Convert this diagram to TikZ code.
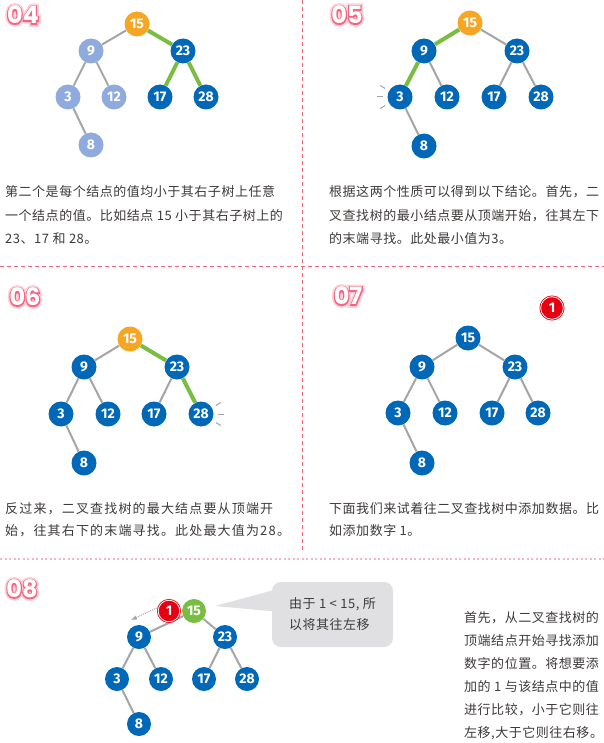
\documentclass[tikz,border=0pt]{standalone}
\usepackage{fontspec}
\setsansfont{Fira Sans}
\newfontfamily\cjk[LetterSpace=4]{Noto Sans CJK SC}
\newfontfamily\cjkwide[LetterSpace=9]{Noto Sans CJK SC}
\newfontfamily\stepfont{Poppins}
\newfontfamily\stepline[FakeBold=10]{Poppins}
\newfontfamily\stepglow[FakeBold=24]{Poppins}
\usepackage{xcolor}
\usetikzlibrary{calc}

\definecolor{treeblue}{RGB}{0,104,183}
\definecolor{treelight}{RGB}{143,170,220}
\definecolor{treeorange}{RGB}{246,166,35}
\definecolor{treegreen}{RGB}{122,190,65}
\definecolor{treered}{RGB}{230,0,18}
\definecolor{edgegray}{RGB}{165,165,165}
\definecolor{bubblegray}{RGB}{224,224,226}
\definecolor{textgray}{RGB}{62,58,57}
\definecolor{rulepink}{RGB}{240,104,132}
\definecolor{dotpink}{RGB}{248,180,194}
\definecolor{glowpink}{RGB}{252,210,220}

\tikzset{
  tnode/.style={circle, minimum size=25pt, inner sep=0pt, text=white,
                font=\sffamily\bfseries\fontsize{14}{14}\selectfont},
  newnode/.style={tnode, fill=treered, draw=treered, double=white,
                  double distance=0.8pt, line width=0.8pt, minimum size=22.6pt},
  link/.style={edgegray, line width=2pt},
  hilink/.style={treegreen, line width=4pt},
  spark/.style={edgegray, line width=1pt},
  txt/.style={anchor=west, inner sep=0pt, text=textgray, font=\cjk\fontsize{13}{13}\selectfont},
  txtwide/.style={txt, font=\cjkwide\fontsize{13}{13}\selectfont},
  glow/.style={inner sep=0pt, text=glowpink, font=\stepglow\bfseries\fontsize{24}{24}\selectfont},
  rim/.style={inner sep=0pt, text=rulepink, font=\stepline\bfseries\fontsize{24}{24}\selectfont},
  steplabel/.style={inner sep=0pt, text=white, font=\stepfont\bfseries\fontsize{24}{24}\selectfont},
  bubble/.style={fill=bubblegray, rounded corners=9pt, minimum width=121pt, minimum height=65pt,
                 align=left, text=textgray, font=\cjk\fontsize{13}{21}\selectfont},
}

\begin{document}
\begin{tikzpicture}[x=1pt, y=-1pt]
    \fill[white] (0,0) rectangle (604,743);
    \useasboundingbox (0,0) rectangle (604,743);
    \draw[rulepink, line width=1pt, dash pattern=on 4pt off 3pt] (302,0) -- (302,553);
    \draw[rulepink, line width=1pt, dash pattern=on 4pt off 3pt] (0,266) -- (604,266);
    \draw[dotpink, line width=1.6pt, dash pattern=on 2pt off 2.5pt] (0,559) -- (604,559);

    \foreach \s/\x/\y in {04/23/15, 05/347/15, 06/25/297, 07/348/296, 08/22/589} {
      \node[glow] (g\s) at (\x,\y) {\s};
      \node[rim] (r\s) at (\x,\y) {\s};
      \node[steplabel] (s\s) at (\x,\y) {\s};
    }

    \foreach \n/\x/\y/\c in {15/137/24/treeorange, 9/91/51/treelight, 23/183/51/treeblue,
                             3/68/97/treelight, 12/114/97/treelight, 17/160/97/treeblue,
                             28/206/97/treeblue, 8/91/145/treelight}
      \node[tnode, fill=\c] (p4n\n) at (\x,\y) {\n};
    \foreach \a/\b/\k in {15/9/link, 9/3/link, 9/12/link, 3/8/link, 15/23/hilink, 23/17/hilink, 23/28/hilink}
      \draw[\k] (p4n\a) -- (p4n\b);
    \foreach \w [count=\i] in {{第二个是每个结点的值均小于其右子树上任意},
                              {一个结点的值。比如结点 15 小于其右子树上的},
                              {23、17 和 28。}}
      \node[txt] (t4l\i) at (5,192+23.5*\i-23.5) {\w};

    \foreach \n/\x/\y/\c in {15/470/23/treeorange, 9/424/51/treeblue, 23/517/51/treeblue,
                             3/400/97/treeblue, 12/447/97/treeblue, 17/494/97/treeblue,
                             28/541/97/treeblue, 8/424/146/treeblue}
      \node[tnode, fill=\c] (p5n\n) at (\x,\y) {\n};
    \foreach \a/\b/\k in {15/9/hilink, 9/3/hilink, 9/12/link, 3/8/link, 15/23/link, 23/17/link, 23/28/link}
      \draw[\k] (p5n\a) -- (p5n\b);
    \foreach \a in {150,180,210}
      \draw[spark] ($(p5n3.center)!1.35!(p5n3.\a)$) -- ($(p5n3.center)!1.8!(p5n3.\a)$);
    \foreach \w [count=\i] in {{根据这两个性质可以得到以下结论。首先，二},
                              {叉查找树的最小结点要从顶端开始，往其左下},
                              {的末端寻找。此处最小值为3。}}
      \node[txt] (t5l\i) at (329,192+23.5*\i-23.5) {\w};

    \foreach \n/\x/\y/\c in {15/130/339/treeorange, 9/84/367/treeblue, 23/177/367/treeblue,
                             3/61/414/treeblue, 12/108/414/treeblue, 17/154/414/treeblue,
                             28/201/414/treeblue, 8/84/463/treeblue}
      \node[tnode, fill=\c] (p6n\n) at (\x,\y) {\n};
    \foreach \a/\b/\k in {15/9/link, 9/3/link, 9/12/link, 3/8/link, 15/23/hilink, 23/17/link, 23/28/hilink}
      \draw[\k] (p6n\a) -- (p6n\b);
    \foreach \a in {30,0,-30}
      \draw[spark] ($(p6n28.center)!1.35!(p6n28.\a)$) -- ($(p6n28.center)!1.8!(p6n28.\a)$);
    \foreach \w [count=\i] in {{反过来，二叉查找树的最大结点要从顶端开},
                              {始，往其右下的末端寻找。此处最大值为28。}}
      \node[txtwide] (t6l\i) at (5,509+22*\i-22) {\w};

    \foreach \n/\x/\y in {15/468/338, 9/422/367, 23/515/367, 3/398/413,
                          12/445/413, 17/492/413, 28/538/413, 8/422/463}
      \node[tnode, fill=treeblue] (p7n\n) at (\x,\y) {\n};
    \foreach \a/\b in {15/9, 9/3, 9/12, 3/8, 15/23, 23/17, 23/28}
      \draw[link] (p7n\a) -- (p7n\b);
    \node[newnode] (p7n1) at (552,308) {1};
    \foreach \w [count=\i] in {{下面我们来试着往二叉查找树中添加数据。比},
                              {如添加数字 1。}}
      \node[txt] (t7l\i) at (329,509+22*\i-22) {\w};

    \foreach \n/\x/\y/\c in {15/194/611/treegreen, 9/139/637/treeblue, 23/225/637/treeblue,
                             3/117/679/treeblue, 12/161/679/treeblue, 17/204/679/treeblue,
                             28/247/679/treeblue, 8/139/724/treeblue}
      \node[tnode, minimum size=24pt, fill=\c] (p8n\n) at (\x,\y) {\n};
    \foreach \a/\b in {15/9, 9/3, 9/12, 3/8, 15/23, 23/17, 23/28}
      \draw[link] (p8n\a) -- (p8n\b);
    \node[newnode, minimum size=21.6pt] (p8n1) at (169,611) {1};
    \coordinate (p8arr) at (131,620);
    \draw[edgegray, line width=1pt, densely dotted, -latex] (p8n1.160) -- (p8arr);

    \node[bubble] (note) at (332.5,614.5) {由于 1 < 15, 所\\以将其往左移};
    \coordinate (tip) at (215,606);
    \fill[bubblegray] (tip) -- ($(note.west)+(4,-25)$) -- ($(note.west)+(4,-3)$) -- cycle;

    \foreach \w [count=\i] in {{首先，从二叉查找树的}, {顶端结点开始寻找添加},
                              {数字的位置。将想要添}, {加的 1 与该结点中的值},
                              {进行比较，小于它则往}, {左移,大于它则往右移。}}
      \node[txt] (t8l\i) at (464,618+23*\i-23) {\w};
\end{tikzpicture}
\end{document}
